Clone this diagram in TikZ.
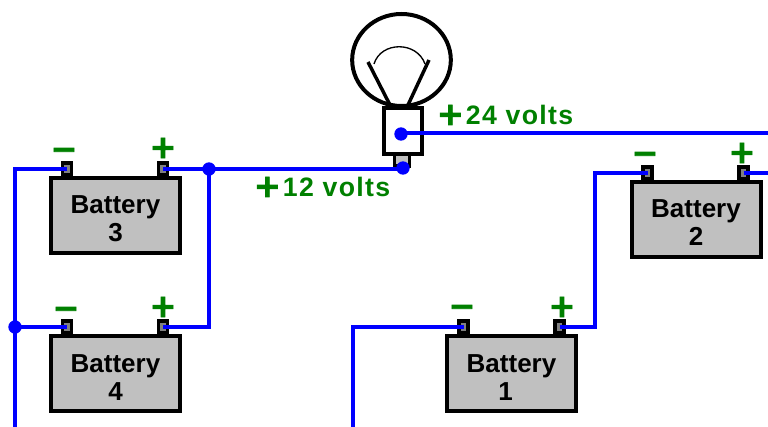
\documentclass[tikz,border=0pt]{standalone}
\usepackage{fontspec}
\usetikzlibrary{shapes.geometric}
\setmainfont{Liberation Sans}
\newfontfamily\signfont[FakeBold=2.5]{DejaVu Sans Bold}
\newfontfamily\voltfont[LetterSpace=5]{Liberation Sans Bold}
\definecolor{wireblue}{HTML}{0000FF}
\definecolor{signgreen}{HTML}{008000}
\definecolor{batgray}{HTML}{C0C0C0}
\definecolor{termgray}{HTML}{808080}
\tikzset{
  batbox/.style={draw=black,line width=3pt,fill=batgray,minimum width=96.75pt,minimum height=56.25pt,inner sep=0pt,outer sep=0pt,align=center,font=\fontsize{19.5}{21}\selectfont\bfseries},
  termbox/.style={draw=black,line width=2.6pt,fill=termgray,minimum width=7pt,minimum height=9pt,inner sep=0pt,outer sep=0pt},
  wire/.style={draw=wireblue,line width=2.6pt,line join=miter},
  jdot/.style={circle,fill=wireblue,minimum size=10pt,inner sep=0pt,outer sep=0pt},
  signmark/.style={text=signgreen,inner sep=0pt,outer sep=0pt,font=\fontsize{24}{24}\selectfont\signfont},
  voltlabel/.style={text=signgreen,inner sep=0pt,outer sep=0pt,anchor=base west,font=\fontsize{20}{22}\selectfont\voltfont},
  lampline/.style={draw=black,line width=2.6pt}
}
\newcommand{\bigplus}{{\fontsize{24}{24}\selectfont\signfont +}\kern1.6pt}
\newcommand{\batlines}[2][0pt]{\rule{0pt}{18.5pt}Battery\\\hspace*{#1}#2}
\begin{document}
\begin{tikzpicture}[x=0.75pt,y=-0.75pt]
\useasboundingbox[fill=white] (0,0) rectangle (768,427);
% lamp
\node[ellipse,draw=black,line width=3pt,fill=white,minimum width=74pt,minimum height=69pt,inner sep=0pt,outer sep=0pt] (bulb) at (401.5,60) {};
\draw[lampline] (390,105) -- (368,62);
\draw[lampline] (408,105) -- (429,60);
\draw[draw=black,line width=1pt] (374,64) .. controls (381,41) and (417,41) .. (425,64);
\node[draw=black,line width=2.4pt,fill=batgray,minimum width=11.5pt,minimum height=9pt,inner sep=0pt,outer sep=0pt] (tip) at (402,160) {};
\node[draw=black,line width=3pt,fill=white,minimum width=28.5pt,minimum height=35pt,inner sep=0pt,outer sep=0pt] (base) at (402.5,131) {};
% terminals
\node[termbox] (b3neg) at (67,169) {};
\node[termbox] (b3pos) at (163,169) {};
\node[termbox] (b4neg) at (67,327) {};
\node[termbox] (b4pos) at (163,327) {};
\node[termbox] (b1neg) at (463.5,327) {};
\node[termbox] (b1pos) at (559.5,327) {};
\node[termbox] (b2neg) at (647.5,173) {};
\node[termbox] (b2pos) at (743.5,173) {};
% batteries
\node[batbox] (bat3) at (115.5,215.5) {\batlines{3}};
\node[batbox] (bat4) at (115.5,374) {\batlines{4}};
\node[batbox] (bat1) at (511.5,374) {\batlines[-9pt]{1}};
\node[batbox] (bat2) at (696,219.5) {\batlines{2}};
% junctions and free ends
\node[jdot] (jlamp) at (403,168) {};
\node[jdot] (jbase) at (401,134) {};
\node[jdot] (jtop) at (209,169) {};
\node[jdot] (jleft) at (15,327) {};
\coordinate (cleft) at (15,169);
\coordinate (cleftend) at (15,427);
\coordinate (cright) at (209,327);
\coordinate (cb1) at (353,327);
\coordinate (cb1end) at (353,427);
\coordinate (c1a) at (595,327);
\coordinate (c1b) at (595,173);
\coordinate (cb2end) at (768,173);
\coordinate (clampend) at (768,133);
% wires
\draw[wire] (b3neg.center) -- (cleft) -- (jleft.center) -- (cleftend);
\draw[wire] (jleft.center) -- (b4neg.center);
\draw[wire] (b3pos.center) -- (jtop.center) -- (403,169) -- (jlamp.center);
\draw[wire] (jtop.center) -- (cright) -- (b4pos.center);
\draw[wire] (b1neg.center) -- (cb1) -- (cb1end);
\draw[wire] (b1pos.center) -- (c1a) -- (c1b) -- (b2neg.center);
\draw[wire] (b2pos.center) -- (cb2end);
\draw[wire] (401,133) -- (clampend);
% signs
\node[signmark] (m3) at (64,154) {−};
\node[signmark] (p3) at (163,148) {+};
\node[signmark] (m4) at (66,313) {−};
\node[signmark] (p4) at (163,307) {+};
\node[signmark] (m1) at (462,311) {−};
\node[signmark] (p1) at (562,307) {+};
\node[signmark] (m2) at (645,158) {−};
\node[signmark] (p2) at (742,153) {+};
% voltage labels
\node[voltlabel] (v24) at (437,125) {\bigplus 24 volts};
\node[voltlabel] (v12) at (254,197) {\bigplus 12 volts};
\end{tikzpicture}
\end{document}
